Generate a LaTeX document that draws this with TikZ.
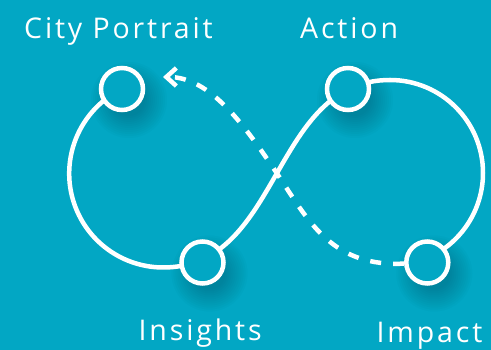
\documentclass[tikz,border=0pt]{standalone}
\usepackage{fontspec}
\newfontfamily\labelfont{Open Sans}[LetterSpace=10]
\usetikzlibrary{arrows.meta}
\definecolor{bgteal}{HTML}{02A7C4}
\definecolor{shadowteal}{HTML}{00495A}
\pgfdeclarelayer{bglayer}
\pgfdeclarelayer{shadowlayer}
\pgfdeclarelayer{linelayer}
\pgfsetlayers{bglayer,shadowlayer,linelayer,main}
\begin{document}
\begin{tikzpicture}[x=1pt,y=1pt,
  stage/.style={circle, draw=white, line width=4.5pt, fill=bgteal, minimum size=42pt, inner sep=0pt},
  loopline/.style={draw=white, line width=4.5pt},
  returnline/.style={draw=white, line width=4.5pt, dash pattern=on 11pt off 12pt, -{Straight Barb[length=10pt,width=18pt]}},
  stagetext/.style={text=white, font=\labelfont\fontsize{28.5}{30}\selectfont, anchor=base west, inner sep=0pt}
]
\begin{pgfonlayer}{bglayer}
\fill[bgteal] (0,0) rectangle (491,350);
\end{pgfonlayer}
\useasboundingbox (0,0) rectangle (491,350);

\node[stage] (cp) at (122,261) {};
\node[stage] (act) at (348,261) {};
\node[stage] (ins) at (202.5,87.5) {};
\node[stage] (imp) at (427.3,87.5) {};

\node[stagetext] (cptext) at (24,311) {City Portrait};
\node[stagetext] (acttext) at (300,311) {Action};
\node[stagetext] (instext) at (138.5,9) {Insights};
\node[stagetext] (imptext) at (376.5,7) {Impact};

\coordinate (rtop) at (390,270);
\coordinate (tip) at (163,273);

\begin{pgfonlayer}{shadowlayer}
\foreach \n in {cp,act,ins,imp}{
  \foreach \r in {38,36,...,16}{
    \fill[shadowteal, opacity=0.03] ([shift={(7,-11)}]\n.center) circle[radius=\r pt];
  }
}
\end{pgfonlayer}

\begin{pgfonlayer}{linelayer}
\draw[loopline] (cp.center) arc[start angle=116,end angle=270,radius=94pt]
   .. controls +(119,0) and +(-119,0) .. (rtop)
   arc[start angle=90,end angle=-67,radius=93pt] -- (imp.center);
\draw[returnline] (imp) .. controls (334,83) and (310,126) .. (280,172)
   .. controls (244,226) and (210,273) .. (tip);
\end{pgfonlayer}
\end{tikzpicture}
\end{document}
